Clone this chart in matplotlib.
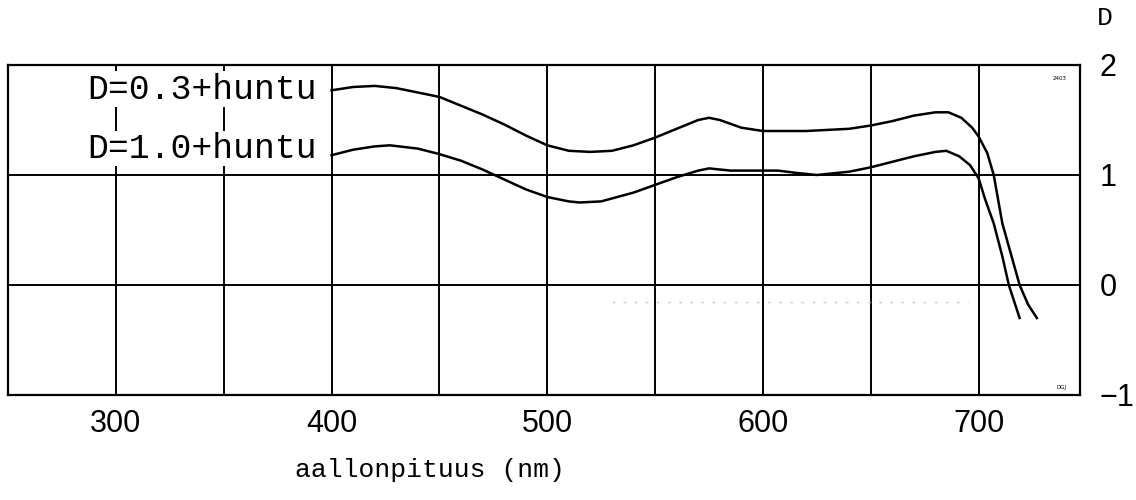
# density curves, scanned-chart look
import numpy as np
import matplotlib.pyplot as plt

# wavelength (nm) and density
nm_a = [400, 410, 420, 430, 440, 450, 460, 470, 480, 490, 500, 510, 520, 530,
        540, 550, 560, 570, 575, 580, 590, 600, 620, 640, 650, 660, 670, 680,
        686, 692, 697, 700, 704, 707, 711, 715, 719, 723, 727]
d_a = [1.77, 1.80, 1.81, 1.79, 1.75, 1.71, 1.63, 1.55, 1.46, 1.36, 1.27, 1.22,
       1.21, 1.22, 1.27, 1.34, 1.42, 1.50, 1.52, 1.50, 1.43, 1.40, 1.40, 1.42,
       1.45, 1.49, 1.54, 1.57, 1.57, 1.52, 1.43, 1.35, 1.20, 1.00, 0.56, 0.28,
       0.00, -0.18, -0.30]

nm_b = [400, 410, 420, 427, 440, 450, 460, 470, 480, 490, 500, 510, 515, 525,
        540, 550, 560, 570, 575, 585, 600, 607, 615, 625, 640, 650, 660, 670,
        680, 685, 691, 696, 700, 703, 707, 711, 714, 717, 719]
d_b = [1.18, 1.23, 1.26, 1.27, 1.24, 1.19, 1.13, 1.05, 0.96, 0.87, 0.80, 0.76,
       0.75, 0.76, 0.84, 0.91, 0.98, 1.04, 1.06, 1.04, 1.04, 1.04, 1.02, 1.00,
       1.03, 1.07, 1.12, 1.17, 1.21, 1.22, 1.17, 1.09, 0.97, 0.78, 0.56, 0.26,
       0.00, -0.18, -0.30]

labels = ['D=0.3+huntu', 'D=1.0+huntu']
x_ticks = [300, 400, 500, 600, 700]
y_ticks = [2, 1, 0, -1]

mono = 'Liberation Mono'

fig = plt.figure(figsize=(11.36, 5), dpi=100)
ax = fig.add_axes([8 / 1136, 0.21, 1072 / 1136, 0.66])

ax.set_xlim(250, 747)
ax.set_ylim(-1, 2)

# grid
for x in range(300, 701, 50):
    ax.axvline(x, color='black', lw=1.4, zorder=1)
for y in [0, 1]:
    ax.axhline(y, color='black', lw=1.4, zorder=1)
for s in ax.spines.values():
    s.set_linewidth(1.6)

# faint scan noise under the zero line
ax.plot([530, 695], [-0.15, -0.15], color='#cccccc', lw=1, ls=(0, (2, 6)), zorder=1)

ax.plot(nm_a, d_a, color='black', lw=1.8, zorder=3)
ax.plot(nm_b, d_b, color='black', lw=1.8, zorder=3)

# legend text in white boxes
ax.text(393, 1.78, labels[0], family=mono, fontsize=25, ha='right', va='center',
        bbox=dict(facecolor='white', edgecolor='none', pad=1), zorder=2)
ax.text(393, 1.24, labels[1], family=mono, fontsize=25, ha='right', va='center',
        bbox=dict(facecolor='white', edgecolor='none', pad=1), zorder=2)

ax.text(741, 1.88, '2403', fontsize=4, ha='right', va='center')
ax.text(741, -0.93, 'DGJ', fontsize=4, ha='right', va='center')

ax.set_xticks(x_ticks)
ax.set_xticklabels([str(v) for v in x_ticks], family='Liberation Sans', fontsize=22)
ax.tick_params(axis='x', length=0, pad=10)

ax.yaxis.tick_right()
ax.set_yticks(y_ticks)
ax.set_yticklabels(['2', '1', '0', '\u22121'], family='Liberation Sans', fontsize=22)
ax.tick_params(axis='y', length=0, pad=14)

fig.text(1105 / 1136, 1 - 18 / 500, 'D', family=mono, fontsize=19, ha='center', va='center')
fig.text(430 / 1136, 1 - 470 / 500, 'aallonpituus (nm)', family=mono, fontsize=19,
         ha='center', va='center')

fig.savefig('out.png', dpi=100, facecolor='white')
